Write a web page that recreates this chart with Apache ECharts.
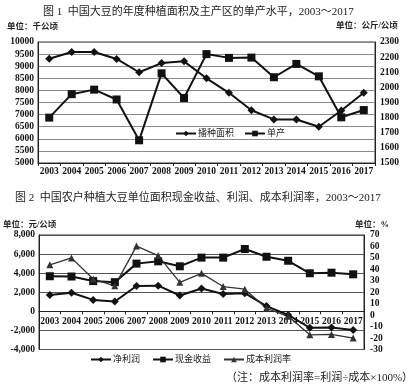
<!DOCTYPE html>
<html>
<head>
<meta charset="utf-8">
<script src="https://cdn.jsdelivr.net/npm/echarts@6/dist/echarts.min.js"></script>
<style>html,body{margin:0;padding:0;background:#fff;}#c{width:413px;height:387px;}</style>
</head>
<body>
<div id="c"></div>
<script>
// ---- data ----
var years = ['2003','2004','2005','2006','2007','2008','2009','2010','2011','2012','2013','2014','2015','2016','2017'];
// Chart 1
var plantingArea = [9310, 9590, 9590, 9300, 8750, 9130, 9200, 8500, 7900, 7180, 6800, 6800, 6500, 7170, 7900];
var unitYield = [1800, 1955, 1985, 1920, 1650, 2093, 1930, 2220, 2195, 2197, 2067, 2155, 2073, 1802, 1850];
var leftTicks1 = [5000, 10000, 500];
var rightTicks1 = [1500, 2300, 100];
// Chart 2
var netProfit = [1700, 1950, 1200, 1030, 2660, 2690, 1660, 2390, 1820, 1900, 550, -380, -1720, -1690, -1950];
var cashIncome = [3680, 3650, 3170, 3060, 5000, 5240, 4720, 5630, 5630, 6530, 5720, 5300, 3990, 4050, 3880];
var costProfitRate = [44, 50, 31.5, 25.6, 60.3, 52, 28.7, 36.5, 25, 22.7, 6, -1, -17.2, -16.8, -20];
var leftTicks2 = [-4000, 8000, 2000];
var rightTicks2 = [-30, 70, 10];

var serif = "'Liberation Serif', 'Noto Sans CJK SC', serif";
var cjk = "'Liberation Serif', 'Noto Sans CJK SC', sans-serif";
var ink = '#111';
var gridGray = '#8a8a8a';

var chart = echarts.init(document.getElementById('c'), null, {renderer: 'canvas'});

function txt(text, x, y, size, weight) {
  return {type: 'text', x: x, y: y, style: {text: text, verticalAlign: 'middle',
    fontSize: size, fontFamily: cjk, fontWeight: weight || 'normal', fill: '#222'}};
}

var axisLbl = {fontFamily: serif, fontWeight: 'bold', fontSize: 9.5, color: '#111'};
function plain(v) { return String(v); }

// pixel geometry of grid 2 (layout only)
var g2Top = 235, g2H = 114.5;
var zeroOffset = -(g2H * (0 - leftTicks2[0]) / (leftTicks2[1] - leftTicks2[0]));

var option = {
  animation: false,
  backgroundColor: '#fff',
  graphic: [
    txt('图 1  中国大豆的年度种植面积及主产区的单产水平，2003～2017', 43, 12, 11),
    txt('单位：千公顷', 7, 27, 8.5, 'bold'),
    txt('单位：公斤/公顷', 336, 26, 8.5, 'bold'),
    txt('图 2  中国农户种植大豆单位面积现金收益、利润、成本利润率，2003～2017', 15, 198, 11),
    txt('单位：元/公顷', 3, 225, 8.5, 'bold'),
    txt('单位：%', 355, 225, 8.5, 'bold'),
    txt('（注：成本利润率=利润÷成本×100%）', 226, 378, 11)
  ],
  grid: [
    {left: 38, top: 42, width: 337, height: 121, show: true, borderColor: '#333', borderWidth: 1, backgroundColor: 'transparent'},
    {left: 39, top: g2Top, width: 325, height: g2H, show: true, borderColor: '#333', borderWidth: 1, backgroundColor: 'transparent'}
  ],
  legend: [
    {left: 175, top: 129, itemWidth: 20, itemHeight: 7, itemGap: 10, padding: 0,
     textStyle: {fontFamily: cjk, fontSize: 9, color: '#222', padding: [0, 0, 0, -3]},
     data: ['播种面积', '单产']},
    {left: 90, top: 355, itemWidth: 20, itemHeight: 7, itemGap: 12, padding: 0,
     textStyle: {fontFamily: cjk, fontSize: 9, color: '#222', padding: [0, 0, 0, -3]},
     data: ['净利润', '现金收益', '成本利润率']}
  ],
  xAxis: [
    {type: 'category', gridIndex: 0, data: years, boundaryGap: true,
     axisLine: {lineStyle: {color: '#222', width: 1}},
     axisTick: {show: true, length: 3, lineStyle: {color: '#222'}},
     axisLabel: Object.assign({margin: 4, interval: 0}, axisLbl)},
    {type: 'category', gridIndex: 1, data: years, boundaryGap: true, position: 'bottom', offset: zeroOffset,
     axisLine: {onZero: false, lineStyle: {color: '#222', width: 1}},
     axisTick: {show: true, length: 3, lineStyle: {color: '#222'}},
     axisLabel: Object.assign({margin: 5, interval: 0}, axisLbl)}
  ],
  yAxis: [
    {type: 'value', gridIndex: 0, min: leftTicks1[0], max: leftTicks1[1], interval: leftTicks1[2],
     axisLine: {show: true, lineStyle: {color: '#222'}}, axisTick: {show: false},
     splitLine: {lineStyle: {color: gridGray, width: 1}},
     axisLabel: Object.assign({margin: 4, formatter: plain}, axisLbl)},
    {type: 'value', gridIndex: 0, position: 'right', min: rightTicks1[0], max: rightTicks1[1], interval: rightTicks1[2],
     axisLine: {show: true, lineStyle: {color: '#222'}}, axisTick: {show: false},
     splitLine: {show: false},
     axisLabel: Object.assign({margin: 5, formatter: plain}, axisLbl)},
    {type: 'value', gridIndex: 1, min: leftTicks2[0], max: leftTicks2[1], interval: leftTicks2[2],
     axisLine: {show: true, lineStyle: {color: '#222'}}, axisTick: {show: false},
     splitLine: {lineStyle: {color: '#555', width: 1}},
     axisLabel: Object.assign({margin: 4, formatter: function (v) { return v.toLocaleString('en-US'); }}, axisLbl)},
    {type: 'value', gridIndex: 1, position: 'right', min: rightTicks2[0], max: rightTicks2[1], interval: rightTicks2[2],
     axisLine: {show: true, lineStyle: {color: '#222'}}, axisTick: {show: false},
     splitLine: {show: false},
     axisLabel: Object.assign({margin: 6, formatter: plain}, axisLbl)}
  ],
  series: [
    {name: '播种面积', type: 'line', xAxisIndex: 0, yAxisIndex: 0, data: plantingArea,
     symbol: 'diamond', symbolSize: 8, lineStyle: {color: ink, width: 2}, itemStyle: {color: ink}},
    {name: '单产', type: 'line', xAxisIndex: 0, yAxisIndex: 1, data: unitYield,
     symbol: 'rect', symbolSize: 8, lineStyle: {color: ink, width: 2}, itemStyle: {color: ink}},
    {name: '净利润', type: 'line', xAxisIndex: 1, yAxisIndex: 2, data: netProfit,
     symbol: 'diamond', symbolSize: 8, lineStyle: {color: ink, width: 2}, itemStyle: {color: ink}},
    {name: '现金收益', type: 'line', xAxisIndex: 1, yAxisIndex: 2, data: cashIncome,
     symbol: 'rect', symbolSize: 8, lineStyle: {color: ink, width: 2}, itemStyle: {color: ink}},
    {name: '成本利润率', type: 'line', xAxisIndex: 1, yAxisIndex: 3, data: costProfitRate,
     symbol: 'triangle', symbolSize: 7, lineStyle: {color: '#333', width: 1.3}, itemStyle: {color: '#333'}}
  ]
};
chart.setOption(option);
</script>
</body>
</html>
